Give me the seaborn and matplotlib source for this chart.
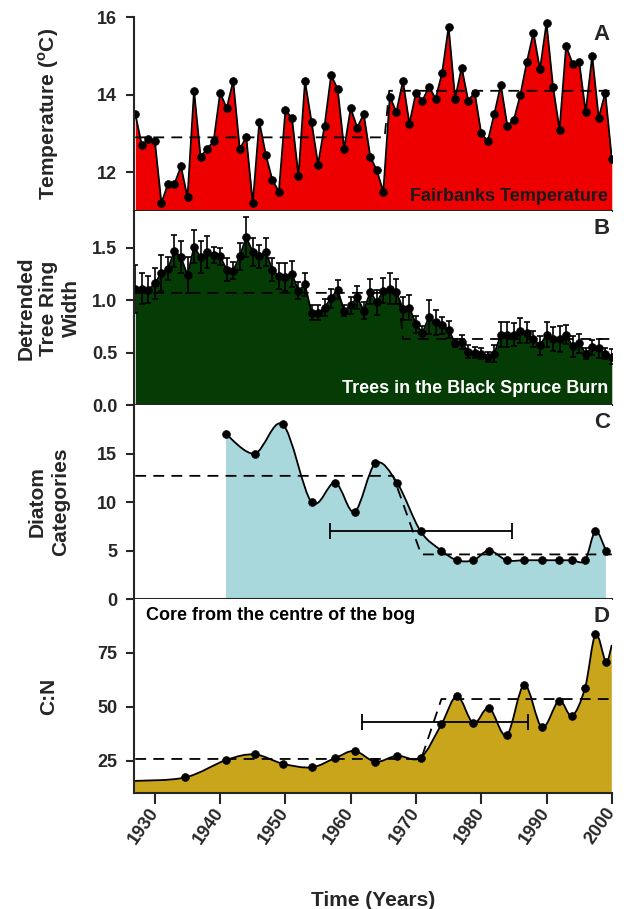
import numpy as np
import matplotlib
matplotlib.use("Agg")
import matplotlib.pyplot as plt
from matplotlib.path import Path
from matplotlib.patches import PathPatch
import seaborn as sns

# ---- data ----
years = list(range(1927, 2001))

temp = [13.5, 12.7, 12.85, 12.8, 11.2, 11.7, 11.7, 12.15, 11.35, 14.1,
        12.4, 12.6, 12.8, 14.05, 13.65, 14.35, 12.6, 12.9, 11.2, 13.3,
        12.45, 11.8, 11.5, 13.6, 13.4, 11.9, 14.35, 13.3, 12.2, 13.2,
        14.5, 14.15, 12.6, 13.65, 13.15, 13.5, 12.4, 12.05, 11.5, 13.95,
        13.55, 14.35, 13.25, 14.05, 13.85, 14.2, 13.9, 14.55, 15.75, 13.9,
        14.7, 13.85, 14.05, 13.0, 12.8, 13.5, 14.25, 13.2, 13.35, 14.0,
        14.85, 15.6, 14.65, 15.85, 14.2, 13.1, 15.25, 14.8, 14.85, 13.55,
        15.0, 13.4, 14.05, 12.35]
temp_mean_x = [1927, 1965.2, 1965.9, 2000]
temp_mean_y = [12.9, 12.9, 14.1, 14.1]

ring = [1.11, 1.11, 1.10, 1.16, 1.26, 1.30, 1.47, 1.41, 1.24, 1.51,
        1.41, 1.46, 1.43, 1.42, 1.29, 1.28, 1.42, 1.60, 1.46, 1.42,
        1.46, 1.29, 1.23, 1.22, 1.25, 1.09, 1.15, 0.88, 0.88, 0.93,
        1.02, 1.10, 0.90, 0.95, 1.03, 0.90, 1.08, 0.98, 1.09, 1.11,
        1.08, 0.92, 0.93, 0.77, 0.69, 0.84, 0.79, 0.76, 0.72, 0.59,
        0.60, 0.51, 0.50, 0.49, 0.46, 0.49, 0.67, 0.67, 0.67, 0.71,
        0.69, 0.63, 0.57, 0.67, 0.63, 0.63, 0.67, 0.56, 0.59, 0.49,
        0.55, 0.54, 0.49, 0.46]
ring_err = [0.23, 0.15, 0.13, 0.15, 0.17, 0.11, 0.15, 0.15, 0.17, 0.16,
            0.15, 0.15, 0.08, 0.08, 0.11, 0.08, 0.13, 0.19, 0.13, 0.11,
            0.13, 0.11, 0.12, 0.13, 0.12, 0.08, 0.11, 0.07, 0.07, 0.08,
            0.09, 0.09, 0.05, 0.08, 0.11, 0.08, 0.12, 0.12, 0.12, 0.15,
            0.12, 0.11, 0.12, 0.08, 0.06, 0.16, 0.12, 0.08, 0.08, 0.04,
            0.07, 0.06, 0.05, 0.05, 0.05, 0.08, 0.12, 0.12, 0.11, 0.12,
            0.10, 0.08, 0.09, 0.12, 0.11, 0.12, 0.09, 0.10, 0.09, 0.05,
            0.07, 0.09, 0.05, 0.07]
ring_mean_x = [1927, 1967.4, 1968.0, 2000]
ring_mean_y = [1.07, 1.07, 0.63, 0.63]

core_years = [1940.9, 1945.3, 1949.6, 1954.0, 1957.6, 1960.6, 1963.8, 1967.1,
              1970.7, 1973.9, 1976.3, 1978.8, 1981.2, 1983.9, 1986.6, 1989.3,
              1991.9, 1993.9, 1995.9, 1997.5, 1999.1]
diatom = [17, 15, 18, 10, 12, 9, 14, 12, 7, 5, 4, 4, 5, 4, 4, 4, 4, 4, 4, 7, 5]
diatom_mean_x = [1927, 1966.5, 1970.8, 2000]
diatom_mean_y = [12.7, 12.7, 4.6, 4.6]
diatom_range_x = [1956.9, 1984.7]
diatom_range_y = 7.0

cn_years = [1934.6] + core_years
cn = [17.2, 25.3, 27.9, 23.6, 21.9, 26.2, 29.5, 24.5, 27.3, 26.4, 41.9,
      55.0, 42.4, 49.5, 36.8, 60.2, 40.5, 52.8, 45.8, 58.7, 83.6, 71.0]
cn_start = (1926.8, 15.6)   # curve runs in from the left edge
cn_end = (2000, 78.7)       # and out to the right edge, no marker
cn_mean_x = [1927, 1970.8, 1973.9, 2000]
cn_mean_y = [25.8, 25.8, 53.6, 53.6]
cn_range_x = [1961.7, 1987.1]
cn_range_y = 42.8

RED = "#EE0000"
GREEN = "#053B05"
BLUE = "#A8D8DC"
GOLD = "#C9A51B"

sns.set_style("ticks")
plt.rcParams["font.family"] = ["Liberation Sans", "DejaVu Sans"]
plt.rcParams["font.weight"] = "bold"


def smooth_path(x, y):
    pts = np.column_stack([x, y]).astype(float)
    n = len(pts)
    verts = [pts[0]]
    codes = [Path.MOVETO]
    for i in range(n - 1):
        p0 = pts[max(i - 1, 0)]
        p1 = pts[i]
        p2 = pts[i + 1]
        p3 = pts[min(i + 2, n - 1)]
        verts += [p1 + (p2 - p0) / 6, p2 - (p3 - p1) / 6, p2]
        codes += [Path.CURVE4] * 3
    return verts, codes


def smooth_area(ax, x, y, base, color):
    verts, codes = smooth_path(x, y)
    fill_v = [(x[0], base)] + verts + [(x[-1], base), (x[0], base)]
    fill_c = [Path.MOVETO, Path.LINETO] + codes[1:] + [Path.LINETO, Path.CLOSEPOLY]
    ax.add_patch(PathPatch(Path(fill_v, fill_c), facecolor=color, edgecolor="none", zorder=1))
    ax.add_patch(PathPatch(Path(verts, codes), facecolor="none", edgecolor="black", lw=1.3, zorder=3))


fig = plt.figure(figsize=(6.32, 9.09), dpi=100)
h = 0.2134
bottoms = [0.1276 + 3 * h, 0.1276 + 2 * h, 0.1276 + h, 0.1276]
axes = [fig.add_axes([0.212, b, 0.756, h]) for b in bottoms]
axA, axB, axC, axD = axes

dash = dict(color="black", lw=1.3, linestyle=(0, (6, 4)), zorder=2)

# A - temperature
axA.fill_between(years, temp, 11, color=RED, lw=0, zorder=1)
sns.lineplot(x=years, y=temp, color="black", lw=1.3, ax=axA, zorder=3)
sns.scatterplot(x=years, y=temp, color="black", s=32, edgecolor="black", ax=axA, zorder=4)
axA.plot(temp_mean_x, temp_mean_y, **dash)
axA.set_ylim(11, 16)
axA.set_yticks([12, 14, 16])
axA.set_ylabel("Temperature ($^\\mathregular{o}$C)")

# B - tree rings
axB.fill_between(years, ring, 0, color=GREEN, lw=0, zorder=1)
axB.errorbar(years, ring, yerr=ring_err, fmt="none", ecolor="black",
             elinewidth=1.2, capsize=2.5, capthick=1.2, zorder=3)
sns.lineplot(x=years, y=ring, color="black", lw=1.3, ax=axB, zorder=3)
sns.scatterplot(x=years, y=ring, color="black", s=32, edgecolor="black", ax=axB, zorder=4)
axB.plot(ring_mean_x, ring_mean_y, **dash)
axB.set_ylim(0, 1.85)
axB.set_yticks([0, 0.5, 1.0, 1.5])
axB.set_yticklabels(["0.0", "0.5", "1.0", "1.5"])
axB.set_ylabel("Detrended\nTree Ring\nWidth", linespacing=1.25)

# C - diatoms
smooth_area(axC, core_years, diatom, 0, BLUE)
sns.scatterplot(x=core_years, y=diatom, color="black", s=32, edgecolor="black", ax=axC, zorder=4)
axC.plot(diatom_mean_x, diatom_mean_y, **dash)
axC.errorbar([np.mean(diatom_range_x)], [diatom_range_y],
             xerr=[[np.mean(diatom_range_x) - diatom_range_x[0]], [diatom_range_x[1] - np.mean(diatom_range_x)]],
             fmt="none", ecolor="black", elinewidth=1.3, capsize=6, capthick=1.3, zorder=3)
axC.set_ylim(0, 20)
axC.set_yticks([0, 5, 10, 15])
axC.set_ylabel("Diatom\nCategories", linespacing=1.25)

# D - C:N
cx = [cn_start[0]] + cn_years + [cn_end[0]]
cy = [cn_start[1]] + cn + [cn_end[1]]
smooth_area(axD, cx, cy, 10, GOLD)
sns.scatterplot(x=cn_years, y=cn, color="black", s=32, edgecolor="black", ax=axD, zorder=4)
axD.plot(cn_mean_x, cn_mean_y, **dash)
axD.errorbar([np.mean(cn_range_x)], [cn_range_y],
             xerr=[[np.mean(cn_range_x) - cn_range_x[0]], [cn_range_x[1] - np.mean(cn_range_x)]],
             fmt="none", ecolor="black", elinewidth=1.3, capsize=6, capthick=1.3, zorder=3)
axD.set_ylim(10, 100)
axD.set_yticks([25, 50, 75])
axD.set_ylabel("C:N")

for ax, letter in zip(axes, "ABCD"):
    ax.set_xlim(1926.8, 2000)
    ax.set_xticks(range(1930, 2001, 10))
    for s in ["top", "right"]:
        ax.spines[s].set_visible(False)
    for s in ["left", "bottom"]:
        ax.spines[s].set_linewidth(1.5)
        ax.spines[s].set_zorder(6)
    ax.tick_params(axis="y", direction="out", length=6, width=1.5, labelsize=13, pad=6)
    ax.yaxis.label.set_fontsize(15)
    ax.yaxis.label.set_fontweight("bold")
    ax.yaxis.label.set_va("center")
    ax.yaxis.set_label_coords(-0.178, 0.5)
    ax.set_xlabel("")
    ax.text(0.996, 0.965, letter, transform=ax.transAxes, ha="right", va="top",
            fontsize=16, fontweight="bold", zorder=7)
    if ax is not axD:
        ax.tick_params(axis="x", bottom=False, labelbottom=False)

axD.tick_params(axis="x", direction="out", length=8, width=1.5, labelsize=13, pad=4)
for lab in axD.get_xticklabels():
    lab.set_rotation(55)
    lab.set_ha("right")
    lab.set_va("center")
    lab.set_rotation_mode("anchor")
axD.set_xlabel("Time (Years)", fontsize=15, fontweight="bold", labelpad=31)

axA.text(0.992, 0.03, "Fairbanks Temperature", transform=axA.transAxes,
         ha="right", va="bottom", fontsize=13, fontweight="bold", color="#1a1a1a", zorder=7)
axB.text(0.992, 0.04, "Trees in the Black Spruce Burn", transform=axB.transAxes,
         ha="right", va="bottom", fontsize=13, fontweight="bold", color="white", zorder=7)
axD.text(0.025, 0.96, "Core from the centre of the bog", transform=axD.transAxes,
         ha="left", va="top", fontsize=13, fontweight="bold", color="black", zorder=7)

fig.savefig("out.png", dpi=100)
